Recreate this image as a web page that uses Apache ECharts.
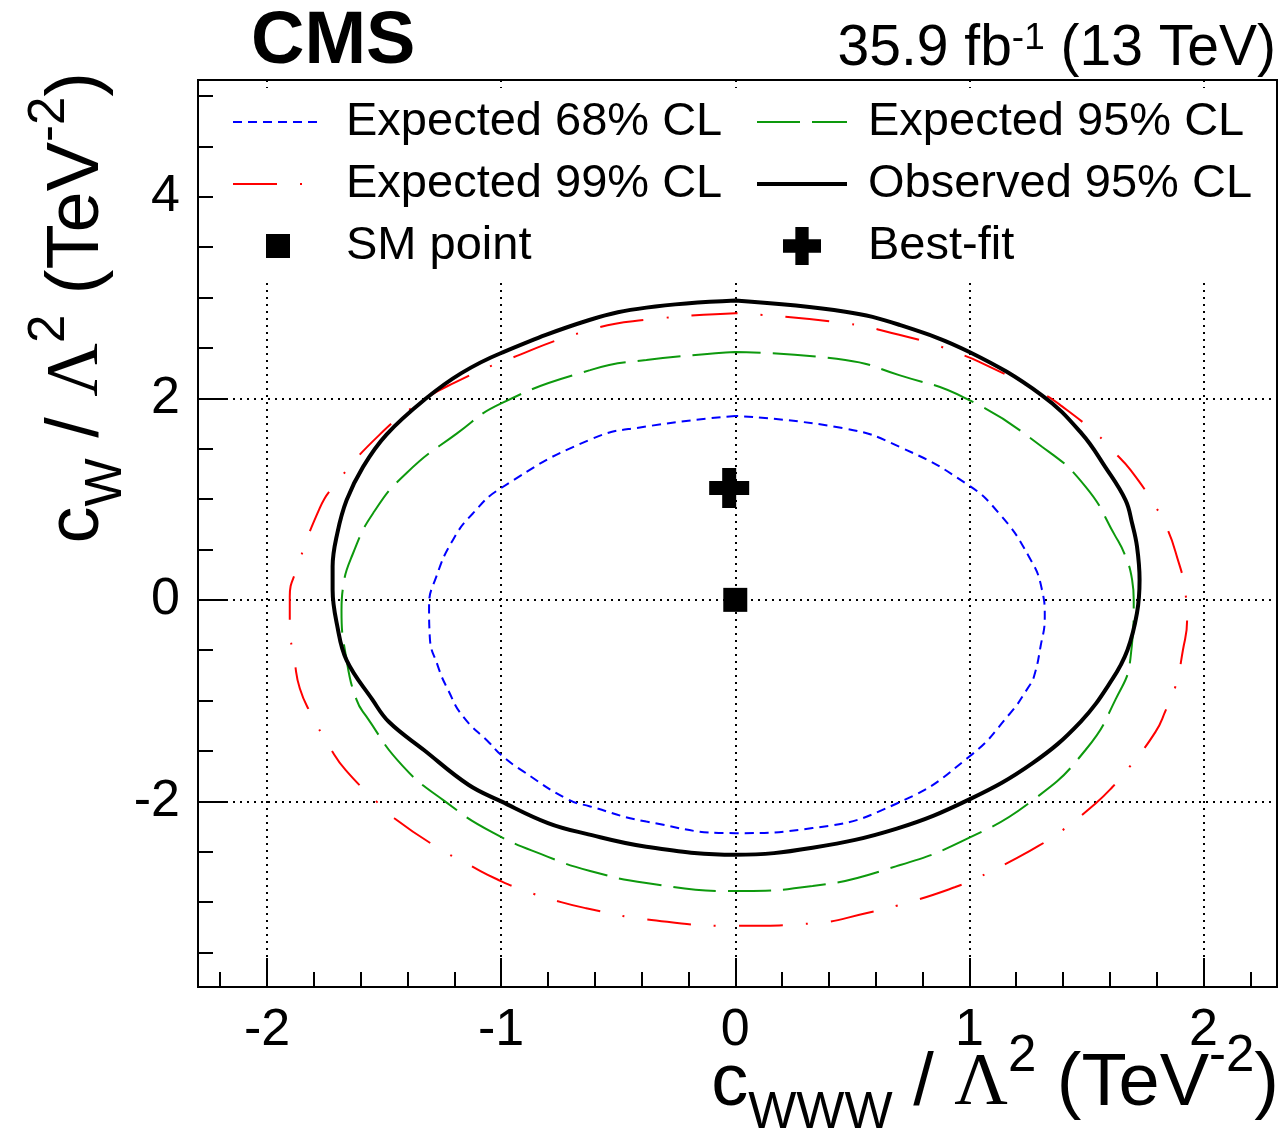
<!DOCTYPE html>
<html>
<head>
<meta charset="utf-8">
<title>CMS cWWW vs cW limits</title>
<script src="https://cdn.jsdelivr.net/npm/echarts@6.0.0/dist/echarts.min.js"></script>
<style>
  html, body { margin: 0; padding: 0; background: #fff; }
  #chart { width: 1287px; height: 1138px; }
</style>
</head>
<body>
<div id="chart"></div>
<script>
// contour points [cWWW, cW] in TeV^-2 (counter-clockwise from the top)
const expected68 = [
  [0.00, 1.825], [-0.38, 1.72], [-0.62, 1.59], [-1.00, 1.11], [-1.12, 0.86], [-1.206, 0.595],
  [-1.277, 0.23], [-1.308, -0.066], [-1.305, -0.364], [-1.27, -0.66], [-1.227, -0.893],
  [-1.163, -1.157], [-1.05, -1.42], [-1.00, -1.54], [-0.907, -1.70], [-0.715, -1.98],
  [-0.62, -2.05], [-0.38, -2.20], [0.00, -2.315], [0.33, -2.265], [0.70, -2.01], [1.00, -1.555],
  [1.169, -1.14], [1.254, -0.86], [1.276, -0.76], [1.304, -0.463], [1.322, -0.166], [1.31, 0.10],
  [1.254, 0.43], [1.126, 0.86], [0.984, 1.157], [0.70, 1.52], [0.47, 1.70], [0.00, 1.825]
];
const expected95 = [
  [0.00, 2.46], [-0.38, 2.38], [-0.62, 2.28], [-1.00, 1.95], [-1.19, 1.65], [-1.405, 1.257],
  [-1.547, 0.86], [-1.633, 0.46], [-1.675, 0.13], [-1.682, -0.10], [-1.66, -0.60], [-1.618, -0.99],
  [-1.576, -1.157], [-1.42, -1.65], [-1.24, -2.00], [-1.035, -2.31], [-0.80, -2.55], [-0.62, -2.69],
  [-0.38, -2.81], [0.00, -2.89], [0.33, -2.84], [0.686, -2.645], [1.00, -2.36], [1.276, -1.98],
  [1.496, -1.49], [1.624, -0.99], [1.688, -0.58], [1.702, 0.00], [1.695, 0.20], [1.667, 0.43],
  [1.624, 0.63], [1.496, 1.124], [1.31, 1.52], [0.984, 2.00], [0.70, 2.23], [0.47, 2.38], [0.00, 2.46]
];
const expected99 = [
  [0.00, 2.845], [-0.38, 2.78], [-0.62, 2.68], [-1.00, 2.36], [-1.19, 2.165], [-1.334, 1.98],
  [-1.519, 1.64], [-1.718, 1.12], [-1.775, 0.91], [-1.874, 0.30], [-1.903, 0.03], [-1.903, -0.23],
  [-1.881, -0.63], [-1.86, -0.88], [-1.817, -1.11], [-1.725, -1.49], [-1.664, -1.69], [-1.533, -2.00],
  [-1.455, -2.17], [-1.277, -2.45], [-1.113, -2.66], [-1.02, -2.77], [-0.907, -2.88], [-0.744, -3.00],
  [-0.637, -3.06], [-0.38, -3.17], [0.00, -3.235], [0.33, -3.21], [0.558, -3.11], [0.757, -2.99],
  [0.94, -2.85], [1.034, -2.76], [1.204, -2.56], [1.297, -2.44], [1.39, -2.30], [1.539, -2.02],
  [1.61, -1.86], [1.68, -1.67], [1.795, -1.31], [1.838, -1.10], [1.88, -0.86], [1.912, -0.50],
  [1.93, -0.20], [1.923, 0.066], [1.88, 0.48], [1.844, 0.71], [1.795, 0.926], [1.688, 1.29],
  [1.617, 1.47], [1.546, 1.64], [1.396, 1.92], [1.31, 2.05], [1.04, 2.365], [0.948, 2.45],
  [0.842, 2.54], [0.70, 2.63], [0.47, 2.745], [0.00, 2.845]
];
const observed95 = [
  [0.00, 2.97], [-0.38, 2.90], [-0.62, 2.78], [-1.00, 2.45], [-1.17, 2.25], [-1.32, 2.00],
  [-1.49, 1.64], [-1.59, 1.32], [-1.66, 0.99], [-1.70, 0.66], [-1.72, 0.33], [-1.72, 0.10],
  [-1.70, -0.26], [-1.66, -0.60], [-1.55, -0.99], [-1.48, -1.21], [-1.33, -1.49], [-1.14, -1.835],
  [-1.00, -2.00], [-0.80, -2.215], [-0.64, -2.32], [-0.38, -2.45], [0.00, -2.53], [0.33, -2.46],
  [0.69, -2.27], [1.00, -1.98], [1.27, -1.62], [1.475, -1.21], [1.61, -0.79], [1.675, -0.50],
  [1.716, -0.13], [1.727, 0.20], [1.716, 0.53], [1.695, 0.76], [1.667, 0.99], [1.58, 1.32],
  [1.48, 1.65], [1.31, 2.03], [1.00, 2.46], [0.70, 2.73], [0.47, 2.86], [0.00, 2.97]
];
const smPoint = [[0, 0]];
const bestFit = [[-0.026, 1.11]];

// axis ranges and tick values
const xRange = [-2.295, 2.314];
const yRange = [-3.842, 5.159];
const xMajorTicks = [-2, -1, 0, 1, 2];
const xMinorTicks = [-2.2, -2.0, -1.8, -1.6, -1.4, -1.2, -1.0, -0.8, -0.6, -0.4, -0.2, 0,
  0.2, 0.4, 0.6, 0.8, 1.0, 1.2, 1.4, 1.6, 1.8, 2.0, 2.2];
const yMajorTicks = [-2, 0, 2, 4];
const yMinorTicks = [-3.5, -3, -2.5, -2, -1.5, -1, -0.5, 0, 0.5, 1, 1.5, 2, 2.5, 3, 3.5, 4, 4.5, 5];

const FONT = '"Liberation Sans", Arial, Helvetica, sans-serif';
const SERIF = '"Liberation Serif", "DejaVu Serif", serif';
const crossPath = 'path://M13,0H27V13H40V27H27V40H13V27H0V13H13Z';
const squarePath = 'path://M0,0H10V10H0Z';

const titleRich = {
  b: { fontSize: 74, lineHeight: 106, fontFamily: FONT, fill: '#000' },
  lam: { fontSize: 74, lineHeight: 106, fontFamily: SERIF, fill: '#000' },
  sub: { fontSize: 51, height: 48, verticalAlign: 'bottom', fontFamily: FONT, fill: '#000' },
  sup: { fontSize: 51, height: 50, verticalAlign: 'top', fontFamily: FONT, fill: '#000' }
};

const axisLineStyle = { color: '#000', width: 2 };
const gridDots = { color: '#000', width: 2, type: [2, 5] };
const noMarker = { opacity: 0 };

const chart = echarts.init(document.getElementById('chart'), null, { renderer: 'canvas' });

const legendText = { fontSize: 47, color: '#000', fontFamily: FONT, lineHeight: 50 };

chart.setOption({
  animation: false,
  backgroundColor: '#fff',
  grid: {
    left: 198, right: 10, top: 80, bottom: 151,
    show: true, borderColor: '#000', borderWidth: 2
  },
  legend: [
    {
      data: [
        { name: 'Expected 68% CL', itemStyle: noMarker },
        { name: 'Expected 99% CL', itemStyle: noMarker },
        { name: 'SM point', icon: squarePath }
      ],
      orient: 'vertical', left: 232, top: 97, padding: 0,
      itemWidth: 90, itemHeight: 24, itemGap: 12, selectedMode: false, symbolKeepAspect: true,
      textStyle: Object.assign({ padding: [0, 0, 0, 18] }, legendText)
    },
    {
      data: [
        { name: 'Expected 95% CL', itemStyle: noMarker },
        { name: 'Observed 95% CL', itemStyle: noMarker, lineStyle: { width: 4, color: '#000' } },
        { name: 'Best-fit', icon: crossPath }
      ],
      orient: 'vertical', left: 755, top: 97, padding: 0,
      itemWidth: 90, itemHeight: 38, itemGap: 12, selectedMode: false, symbolKeepAspect: true,
      textStyle: Object.assign({ padding: [0, 0, 0, 16] }, legendText)
    }
  ],
  xAxis: [
    {
      type: 'value', min: xRange[0], max: xRange[1], splitNumber: 5, position: 'bottom',
      axisLine: { onZero: false, lineStyle: axisLineStyle },
      axisTick: { inside: true, length: 29, customValues: xMajorTicks, lineStyle: axisLineStyle },
      axisLabel: { customValues: xMajorTicks, margin: 18, fontSize: 52, color: '#000', fontFamily: FONT },
      splitLine: { show: true, customValues: xMajorTicks, lineStyle: gridDots }
    },
    {
      type: 'value', min: xRange[0], max: xRange[1], position: 'bottom',
      axisLine: { show: false, onZero: false }, axisLabel: { show: false }, splitLine: { show: false },
      axisTick: { inside: true, length: 15, customValues: xMinorTicks, lineStyle: axisLineStyle }
    }
  ],
  yAxis: [
    {
      type: 'value', min: yRange[0], max: yRange[1], splitNumber: 5, position: 'left',
      axisLine: { onZero: false, lineStyle: axisLineStyle },
      axisTick: { inside: true, length: 29, customValues: yMajorTicks, lineStyle: axisLineStyle },
      axisLabel: { customValues: yMajorTicks, margin: 18, fontSize: 52, color: '#000', fontFamily: FONT },
      splitLine: { show: true, customValues: yMajorTicks, lineStyle: gridDots }
    },
    {
      type: 'value', min: yRange[0], max: yRange[1], position: 'left',
      axisLine: { show: false, onZero: false }, axisLabel: { show: false }, splitLine: { show: false },
      axisTick: { inside: true, length: 15, customValues: yMinorTicks, lineStyle: axisLineStyle }
    }
  ],
  series: [
    {
      name: 'Expected 68% CL', type: 'line', data: expected68, symbol: 'none', smooth: 0.5, silent: true,
      itemStyle: { color: '#0000ff' }, lineStyle: { color: '#0000ff', width: 2, type: [9, 6] }
    },
    {
      name: 'Expected 95% CL', type: 'line', data: expected95, symbol: 'none', smooth: 0.5, silent: true,
      itemStyle: { color: '#0d990d' }, lineStyle: { color: '#0d990d', width: 2, type: [43, 12] }
    },
    {
      name: 'Expected 99% CL', type: 'line', data: expected99, symbol: 'none', smooth: 0.5, silent: true,
      itemStyle: { color: '#ff0000' }, lineStyle: { color: '#ff0000', width: 2, type: [44, 23, 2, 23] }
    },
    {
      name: 'Observed 95% CL', type: 'line', data: observed95, symbol: 'none', smooth: 0.4, silent: true,
      itemStyle: { color: '#000' }, lineStyle: { color: '#000', width: 4 }
    },
    {
      name: 'SM point', type: 'scatter', data: smPoint, symbol: 'rect', symbolSize: 24, silent: true,
      itemStyle: { color: '#000', opacity: 1 }
    },
    {
      name: 'Best-fit', type: 'scatter', data: bestFit, symbol: crossPath, symbolSize: 40, silent: true,
      itemStyle: { color: '#000', opacity: 1 }
    }
  ],
  graphic: [
    {
      type: 'rect', z: 1, silent: true,
      shape: { x: 213, y: 88, width: 1058, height: 190 },
      style: { fill: '#fff' }
    },
    {
      type: 'text', x: 251, y: 43,
      style: { text: 'CMS', fontSize: 74, fontWeight: 'bold', fontFamily: FONT, fill: '#000', align: 'left', verticalAlign: 'middle' }
    },
    {
      type: 'text', x: 1276, y: 49,
      style: {
        text: '{b|35.9 fb}{sup|-1}{b| (13 TeV)}', align: 'right', verticalAlign: 'middle',
        rich: {
          b: { fontSize: 57, lineHeight: 60, fontFamily: FONT, fill: '#000' },
          sup: { fontSize: 37, height: 40, verticalAlign: 'top', fontFamily: FONT, fill: '#000' }
        }
      }
    },
    {
      type: 'text', x: 1279, y: 1085,
      style: {
        text: '{b|c}{sub|WWW}{b| / }{lam|Λ}{sup|2}{b| (TeV}{sup|-2}{b|)}',
        align: 'right', verticalAlign: 'middle', rich: titleRich
      }
    },
    {
      type: 'text', x: 78, y: 72, rotation: Math.PI / 2,
      style: {
        text: '{b|c}{sub|W}{b| / }{lam|Λ}{sup|2}{b| (TeV}{sup|-2}{b|)}',
        align: 'right', verticalAlign: 'middle', rich: titleRich
      }
    }
  ]
});
</script>
</body>
</html>
